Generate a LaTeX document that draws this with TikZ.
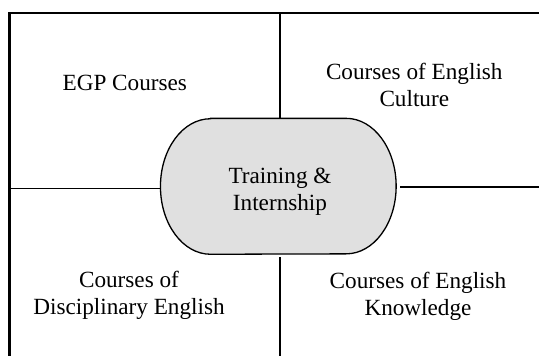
\documentclass[tikz,border=0pt]{standalone}
\usepackage{fontspec}
\setmainfont{Liberation Serif}
\definecolor{hubgray}{HTML}{E0E0E0}
\begin{document}
\begin{tikzpicture}[x=1pt, y=-1pt, frame/.style = {draw, line width=2.3pt}, rule/.style = {draw, line width=1.3pt}, txt/.style = {align=center, font=\fontsize{23.2}{26.8}\selectfont, anchor=base, inner sep=0pt}, hub/.style = {minimum width=235.3pt, minimum height=135.5pt, inner sep=0pt}]
	\useasboundingbox (0,0) rectangle (539,356);
	\coordinate (c1) at (9.5,356);
	\coordinate (c2) at (9.5,13.3);
	\coordinate (c3) at (539,13.3);
	\draw[frame] (c1) -- (c2) -- (c3);
	\node[hub] (hub) at (278.3,186.3) {};
	\draw[rule, fill=hubgray] ([xshift=50pt]hub.north west) -- ([xshift=-50pt]hub.north east) arc[start angle=90, end angle=-90, x radius=50pt, y radius=67.75pt] -- ([xshift=50pt]hub.south west) arc[start angle=270, end angle=90, x radius=50pt, y radius=67.75pt] -- cycle;
	\coordinate (top) at (280,13.3);
	\coordinate (bot) at (280,356);
	\coordinate (lft) at (9.5,188.3);
	\coordinate (rgt) at (539,187);
	\draw[rule] (top) -- (top |- hub.north);
	\draw[rule] (bot) -- ([yshift=-3pt]bot |- hub.south);
	\draw[rule] (lft) -- (lft -| hub.west);
	\draw[rule] (rgt) -- ([xshift=4pt]rgt -| hub.east);
	\node[txt] (train) at (280,210) {Training \&\\Internship};
	\node[txt] (egp) at (124.8,90) {EGP Courses};
	\node[txt] (culture) at (414.3,106.7) {Courses of English\\Culture};
	\node[txt] (discipl) at (129,314.3) {Courses of\\Disciplinary English};
	\node[txt] (knowl) at (418,315) {Courses of English\\Knowledge};
\end{tikzpicture}
\end{document}
